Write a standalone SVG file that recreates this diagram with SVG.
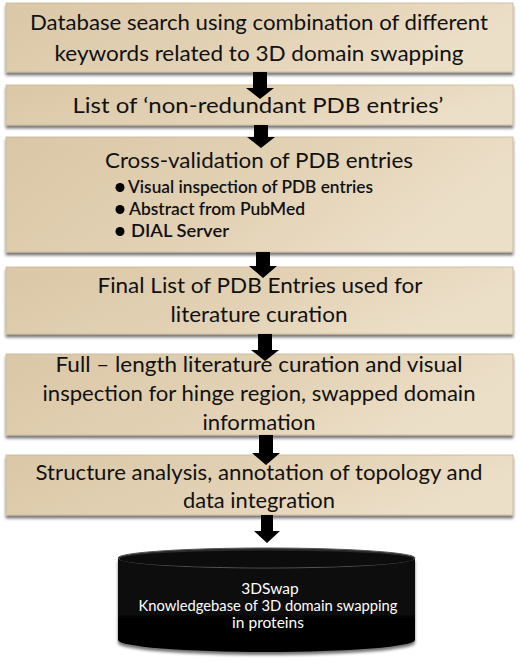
<svg xmlns="http://www.w3.org/2000/svg" width="520" height="661" viewBox="0 0 520 661">
<defs>
<linearGradient id="tan" x1="0" y1="0" x2="1" y2="0.3">
<stop offset="0" stop-color="#dac7a7"/>
<stop offset="0.6" stop-color="#e3d2b5"/>
<stop offset="1" stop-color="#ecdfc8"/>
</linearGradient>
<filter id="sh" x="-5%" y="-10%" width="110%" height="130%">
<feGaussianBlur in="SourceAlpha" stdDeviation="1.5"/>
<feOffset dx="0" dy="2.5" result="b"/>
<feComponentTransfer><feFuncA type="linear" slope="0.55"/></feComponentTransfer>
<feMerge><feMergeNode/><feMergeNode in="SourceGraphic"/></feMerge>
</filter>
<linearGradient id="cyl" x1="0" y1="0" x2="0" y2="1">
<stop offset="0" stop-color="#111"/>
<stop offset="1" stop-color="#000"/>
</linearGradient>
</defs>
<style>
.box{fill:url(#tan);stroke:#c9b696;stroke-width:0.8;filter:url(#sh)}
.t{font-family:"Lato","Open Sans","Liberation Sans",sans-serif;font-size:22px;fill:#111;text-anchor:middle}
.b{font-family:"Lato","Open Sans","Liberation Sans",sans-serif;font-size:17.5px;font-weight:600;fill:#111}
.w{font-family:"Lato","Open Sans","Liberation Sans",sans-serif;font-size:15.5px;fill:#fff;text-anchor:middle}
.arr{fill:#000}
</style>
<g id="n1"><rect class="box" x="6" y="3" width="507" height="69"/>
<text class="t" x="259" y="30" textLength="458" lengthAdjust="spacingAndGlyphs">Database search using combination of different</text>
<text class="t" x="259" y="61" textLength="409" lengthAdjust="spacingAndGlyphs">keywords related to 3D domain swapping</text></g>
<g id="n2"><rect class="box" x="6" y="85" width="507" height="40"/>
<text class="t" x="258" y="113" textLength="371" lengthAdjust="spacingAndGlyphs">List of  ‘non-redundant  PDB entries’</text></g>
<g id="n3"><rect class="box" x="6" y="137" width="507" height="115"/>
<text class="t" x="259" y="168" textLength="308" lengthAdjust="spacingAndGlyphs">Cross-validation of PDB entries</text>
<circle cx="120" cy="187.5" r="4.5" fill="#000"/><text class="b" x="128" y="193" textLength="245" lengthAdjust="spacingAndGlyphs">Visual inspection of PDB entries</text>
<circle cx="120" cy="209.5" r="4.5" fill="#000"/><text class="b" x="129" y="215" textLength="176" lengthAdjust="spacingAndGlyphs">Abstract from PubMed</text>
<circle cx="120" cy="231.5" r="4.5" fill="#000"/><text class="b" x="131" y="237" textLength="98" lengthAdjust="spacingAndGlyphs">DIAL Server</text></g>
<g id="n4"><rect class="box" x="6" y="267" width="507" height="67"/>
<text class="t" x="260" y="293" textLength="325" lengthAdjust="spacingAndGlyphs">Final List of PDB Entries used for</text>
<text class="t" x="259" y="322" textLength="177" lengthAdjust="spacingAndGlyphs">literature curation</text></g>
<g id="n5"><rect class="box" x="6" y="354" width="507" height="81"/>
<text class="t" x="259" y="372" textLength="407" lengthAdjust="spacingAndGlyphs">Full – length literature curation and visual</text>
<text class="t" x="259" y="401" textLength="433" lengthAdjust="spacingAndGlyphs">inspection for hinge region, swapped domain</text>
<text class="t" x="259" y="430" textLength="113" lengthAdjust="spacingAndGlyphs">information</text></g>
<g id="n6"><rect class="box" x="6" y="455" width="507" height="60"/>
<text class="t" x="259" y="480" textLength="447" lengthAdjust="spacingAndGlyphs">Structure analysis, annotation of topology and</text>
<text class="t" x="259" y="508" textLength="152" lengthAdjust="spacingAndGlyphs">data integration</text></g>
<g id="n7">
<path d="M118,558 L118,640 A148.5,12 0 0 0 415,640 L415,558 Z" fill="url(#cyl)" filter="url(#sh)"/>
<ellipse cx="266.5" cy="558" rx="148.5" ry="10" fill="#2a2a2a" stroke="#555" stroke-width="1"/>
<ellipse cx="266.5" cy="559" rx="147" ry="8.5" fill="#0c0c0c"/>
<text class="w" x="270" y="594">3DSwap</text>
<text class="w" x="268" y="611" textLength="259" lengthAdjust="spacingAndGlyphs">Knowledgebase of 3D domain swapping</text>
<text class="w" x="268" y="628">in proteins</text></g>
<g id="connectors">
<path class="arr" d="M253,72 L267,72 L267,88 L274,88 L260,99 L246,88 L253,88 Z"/>
<path class="arr" d="M254,125 L268,125 L268,137 L275,137 L261,148 L247,137 L254,137 Z"/>
<path class="arr" d="M256,252 L270,252 L270,266 L277,266 L263,278 L249,266 L256,266 Z"/>
<path class="arr" d="M258,334 L272,334 L272,350 L279,350 L265,361 L251,350 L258,350 Z"/>
<path class="arr" d="M259,435 L273,435 L273,453 L280,453 L266,465 L252,453 L259,453 Z"/>
<path class="arr" d="M261,515 L273,515 L273,531 L280,531 L267,543 L254,531 L261,531 Z"/>
</g>
</svg>
